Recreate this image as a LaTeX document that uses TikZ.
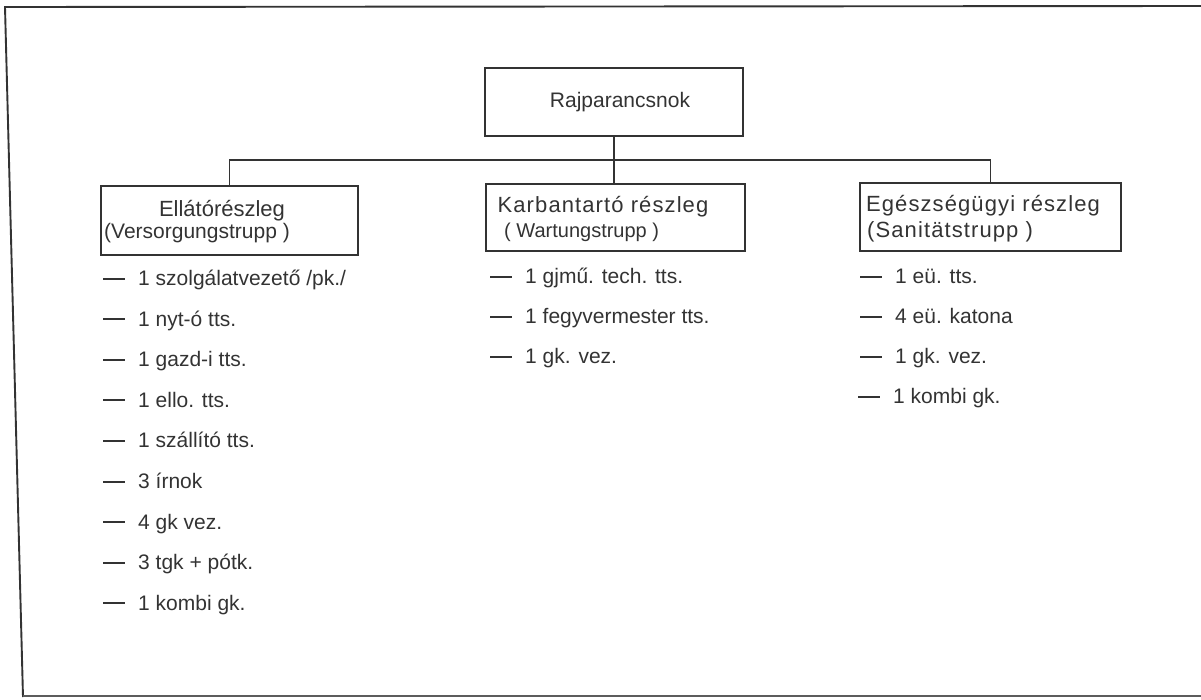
\documentclass[tikz,border=0pt]{standalone}
\usepackage{fontspec}
\setmainfont{Liberation Sans}
\newfontfamily\headfont[LetterSpace=5]{Liberation Sans}
\definecolor{ink}{gray}{0.2}
\newcommand{\dsh}{\rule[6pt]{22pt}{2pt}\hspace{13pt}}
\begin{document}
\begin{tikzpicture}[x=1pt,y=-1pt,
  ln/.style={draw=ink,line width=1.9pt},
  box/.style={ln,rectangle,inner sep=0pt},
  txt/.style={inner sep=0pt,text=ink,font=\fontsize{22}{26}\selectfont,text height=16pt,text depth=5pt},
  item/.style={txt,anchor=west,font=\fontsize{21}{25}\selectfont}]
\useasboundingbox (0,0) rectangle (1201,699);
% frame
\draw[ln] (1201,6) -- (5,7) -- (23,697);
\draw[ln,line width=1.5pt,draw=ink!80] (23,696) -- (1201,696);
% boxes
\node[box,minimum width=258pt,minimum height=68pt] (top) at (614,102) {};
\node[box,minimum width=257pt,minimum height=69pt] (left) at (229.5,220.5) {};
\node[box,minimum width=259pt,minimum height=67pt] (mid) at (615.5,217.5) {};
\node[box,minimum width=261pt,minimum height=68pt] (right) at (990.5,217) {};
% box texts
\node[txt,font=\fontsize{21}{24}\selectfont] (t0) at (620,102) {Rajparancsnok};
\node[txt] (l1) at (222,211) {Ellátórészleg};
\node[txt,anchor=west,font=\fontsize{21}{24}\selectfont] (l2) at (104,233) {(Versorgungstrupp )};
\node[txt,font=\headfont\fontsize{22}{26}\selectfont] (m1) at (603,207) {Karbantartó részleg};
\node[txt,anchor=west,font=\fontsize{20}{24}\selectfont] (m2) at (504,232) {( Wartungstrupp )};
\node[txt,font=\headfont\fontsize{22}{26}\selectfont] (r1) at (983,206) {Egészségügyi részleg};
\node[txt,anchor=west,font=\headfont\fontsize{22}{26}\selectfont] (r2) at (867,232) {(Sanitätstrupp )};
% connectors
\draw[ln] (top.south) -- (top.south |- mid.north);
\draw[ln] (left.north) -- ++(0,-25) coordinate (bus) -| (right.north);
% left list
\node[item] (a1) at (103,280) {\dsh 1 szolgálatvezető /pk./};
\node[item] (a2) at (103,320.6) {\dsh 1 nyt-ó tts.};
\node[item] (a3) at (103,361.2) {\dsh 1 gazd-i tts.};
\node[item] (a4) at (103,401.8) {\dsh 1 ello. tts.};
\node[item] (a5) at (103,442.4) {\dsh 1 szállító tts.};
\node[item] (a6) at (103,483) {\dsh 3 írnok};
\node[item] (a7) at (103,523.6) {\dsh 4 gk vez.};
\node[item] (a8) at (103,564.2) {\dsh 3 tgk + pótk.};
\node[item] (a9) at (103,604.8) {\dsh 1 kombi gk.};
% middle list
\node[item] (b1) at (490,278) {\dsh 1 gjmű. tech. tts.};
\node[item] (b2) at (490,318) {\dsh 1 fegyvermester tts.};
\node[item] (b3) at (490,358) {\dsh 1 gk. vez.};
% right list
\node[item] (c1) at (860,278) {\dsh 1 eü. tts.};
\node[item] (c2) at (860,318) {\dsh 4 eü. katona};
\node[item] (c3) at (860,358) {\dsh 1 gk. vez.};
\node[item] (c4) at (858,398) {\dsh 1 kombi gk.};
\end{tikzpicture}
\end{document}
